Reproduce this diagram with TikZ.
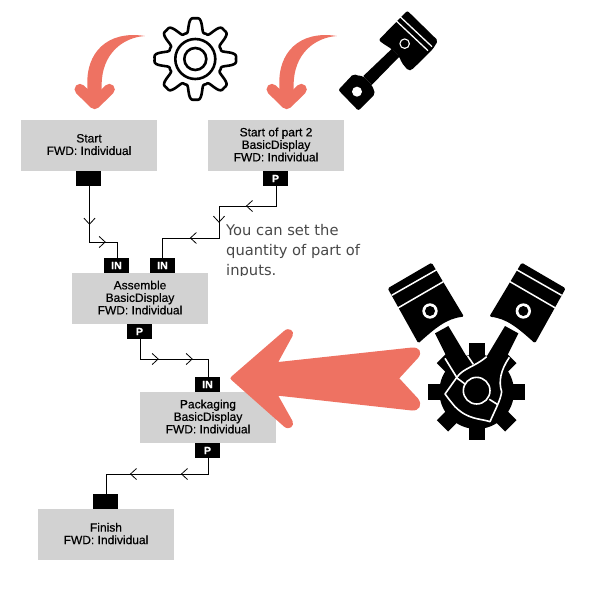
\documentclass[tikz,border=0pt]{standalone}
\usepackage{fontspec}
\setmainfont[FakeBold=0.5]{Liberation Sans}
\newfontfamily\notefont{DejaVu Sans}
\usetikzlibrary{decorations.markings}
\definecolor{salmon}{HTML}{EE7262}
\definecolor{boxgrey}{HTML}{D2D2D2}
\definecolor{notegrey}{HTML}{484848}
\newcommand{\downstrut}{\rule[-2pt]{0pt}{2pt}}
\tikzset{
  x=1pt,y=-1pt,
  stepbox/.style={fill=boxgrey,minimum width=136pt,minimum height=51pt,inner sep=0pt,align=center,font=\fontsize{12}{12.5}\selectfont},
  portbox/.style={fill=black,text=white,minimum width=25pt,minimum height=15pt,inner sep=0pt,font=\fontsize{10.5}{11}\selectfont\bfseries},
  link/.style={draw=black,line width=1pt},
  chevmark/.style={postaction={decorate,decoration={markings,mark=at position #1 with {\draw[black,line width=.8pt] (-6,5.5)--(0,0)--(-6,-5.5);}}}},
  zoomed/.style={x=0.33333pt,y=-0.33333pt},
}
\newcommand{\salmoncurve}{%
  \fill[salmon] (262,300) -- (262,255) .. controls (258,160) and (320,90) .. (435,108)
     .. controls (370,112) and (305,160) .. (305,255) -- (305,300) -- cycle;
  \draw[salmon,line width=11pt,line cap=round,line join=round] (240,268) -- (284,311) -- (328,268);
}
\newcommand{\enginepiston}{%
  \fill[black,rounded corners=1.5pt] (23,115) -- (155,38) -- (252,200) .. controls (200,205) and (165,235) .. (115,280) -- cycle;
  \draw[white,line width=1.5pt] (35,136) -- (172,58);
  \draw[white,line width=1.5pt] (52,175) -- (190,95);
  \fill[white] (150,183) circle (23);
  \fill[black] (150,183) circle (15);
  \fill[black] (165,250) -- (205,228) -- (290,370) -- (240,400) -- cycle;
}
\begin{document}
\begin{tikzpicture}
\useasboundingbox (0,0) rectangle (600,600);

% flow nodes
\node[stepbox] (start) at (89,145.5) {Start\\FWD: Individual\downstrut};
\node[stepbox] (part2) at (276,145.5) {Start of part 2\\BasicDisplay\\FWD: Individual\downstrut};
\node[stepbox] (assemble) at (140,298.5) {Assemble\\BasicDisplay\\FWD: Individual\downstrut};
\node[stepbox] (packaging) at (208,417.5) {Packaging\\BasicDisplay\\FWD: Individual\downstrut};
\node[stepbox] (finish) at (106,534.5) {Finish\\FWD: Individual\downstrut};

\node[portbox] (p1) at (88.5,178.5) {};
\node[portbox] (p2) at (275.5,178.5) {P};
\node[portbox] (in1) at (116.5,265.5) {IN};
\node[portbox] (in2) at (162.5,265.5) {IN};
\node[portbox] (p3) at (139.5,331.5) {P};
\node[portbox] (in3) at (207.5,384.5) {IN};
\node[portbox] (p4) at (207.5,450.5) {P};
\node[portbox] (in4) at (105.5,501.5) {};

% bends
\coordinate (b1a) at (89.5,242);
\coordinate (b1b) at (117.5,242);
\coordinate (b2a) at (276.5,206);
\coordinate (b2b) at (219,206);
\coordinate (b2c) at (219,238);
\coordinate (b2d) at (162.5,238);
\coordinate (b3a) at (140.5,359);
\coordinate (b3b) at (208,359);
\coordinate (b4a) at (208,474);
\coordinate (b4b) at (106,474);

% connectors
\draw[link,chevmark=38pt,chevmark=71.5pt] (p1.south -| b1a) -- (b1a) -- (b1b) -- (in1.north -| b1b);
\draw[link,chevmark=49.8pt,chevmark=93.5pt,chevmark=137.9pt] (p2.south -| b2a) -- (b2a) -- (b2b) -- (b2c) -- (b2d) -- (in2.north -| b2d);
\draw[link,chevmark=37.5pt,chevmark=71.5pt] (p3.south -| b3a) -- (b3a) -- (b3b) -- (in3.north -| b3b);
\draw[link,chevmark=42.3pt,chevmark=93.3pt] (p4.south -| b4a) -- (b4a) -- (b4b) -- (in4.north -| b4b);

% note, cut off at the bottom
\begin{scope}
\clip (220,215) rectangle (400,275);
\node[anchor=north west,inner sep=0pt,align=left,text=notegrey,font=\notefont\fontsize{14.7}{20}\selectfont] (note) at (226,224) {You can set the\\quantity of part of\\inputs.};
\end{scope}

% curved arrows
\begin{scope}[zoomed]
\salmoncurve
\end{scope}
\begin{scope}[zoomed,shift={(576,0)}]
\salmoncurve
\end{scope}

% large arrow
\fill[salmon] (231.5,376.5) -- (284,331) .. controls (289,326.5) and (295,331) .. (292.5,336)
  -- (278.3,362) -- (412,347.5) .. controls (419,347) and (423,352) .. (418,358)
  -- (399.3,378.3) -- (418,398.5) .. controls (423,405) and (419,411) .. (412,410.5)
  -- (278.3,395.7) -- (292.5,421) .. controls (295,426) and (289,431) .. (284,426.5)
  -- (231.5,380) .. controls (230,379) and (230,377.5) .. (231.5,376.5) -- cycle;

% outline gear
\draw[black,line width=2.6pt,line join=round] plot[domain=0:359,samples=360] ({195.3+(34+6.7*(cos(8*\x)-0.15*cos(24*\x))/0.85)*cos(\x)},{59+(34+6.7*(cos(8*\x)-0.15*cos(24*\x))/0.85)*sin(\x)}) -- cycle;
\draw[black,line width=2.6pt] (195.3,59) circle (20);
\draw[black,line width=2.6pt] (195.3,59) circle (11);

% single piston
\begin{scope}[shift={(300,0)},zoomed]
  \fill[black,rounded corners=2pt] (322,32) -- (414,122) -- (398,148) -- (335,210) -- (325,212) -- (305,188) -- (298,170) -- (275,147) -- (248,130) -- (236,120) -- cycle;
  \fill[black] (275,147) -- (298,170) -- (215,255) -- (190,228) -- cycle;
  \fill[black,rounded corners=2pt] (115,270) -- (160,222) -- (178,228) -- (190,228) -- (215,255) -- (222,270) -- (225,282) -- (175,332) -- cycle;
  \fill[white] (171,275) circle (15);
  \draw[white,line width=1.3pt] (298,48) -- (396,140);
  \draw[white,line width=1.3pt] (288,62) -- (384,152);
  \fill[white] (314,131) circle (16);
  \fill[black] (314,131) circle (12);
\end{scope}

% engine
\begin{scope}[shift={(380,250)},zoomed]
  \fill[black] (290,425) circle (112);
  \foreach \a in {0,45,...,315} {
    \fill[black,shift={(290,425)},rotate=\a] (90,-24) rectangle (145,24);
  }
  \enginepiston
  \begin{scope}[shift={(580,0)},xscale=-1]
    \enginepiston
  \end{scope}
  \fill[black] (232,380) .. controls (250,355) and (285,350) .. (320,322) -- (385,325) .. controls (362,360) and (355,395) .. (365,425) .. controls (362,450) and (345,480) .. (330,515) .. controls (300,505) and (265,510) .. (225,470) .. controls (212,455) and (205,445) .. (195,432) -- cycle;
  \draw[white,line width=1.6pt,line join=round] (232,380) .. controls (250,355) and (285,350) .. (320,320);
  \draw[white,line width=1.6pt,line join=round] (388,322) .. controls (362,360) and (355,395) .. (365,425) .. controls (362,450) and (345,480) .. (330,515) .. controls (300,505) and (265,510) .. (225,470) .. controls (212,455) and (205,445) .. (195,432) -- (232,380);
  \draw[white,line width=1.6pt] (195,325) -- (232,385) -- (255,402);
  \draw[white,line width=1.6pt] (263,318) -- (280,343);
  \draw[white,line width=1.6pt] (328,448) -- (352,463);
  \draw[white,line width=1.6pt] (290,422) circle (40);
\end{scope}
\end{tikzpicture}
\end{document}
